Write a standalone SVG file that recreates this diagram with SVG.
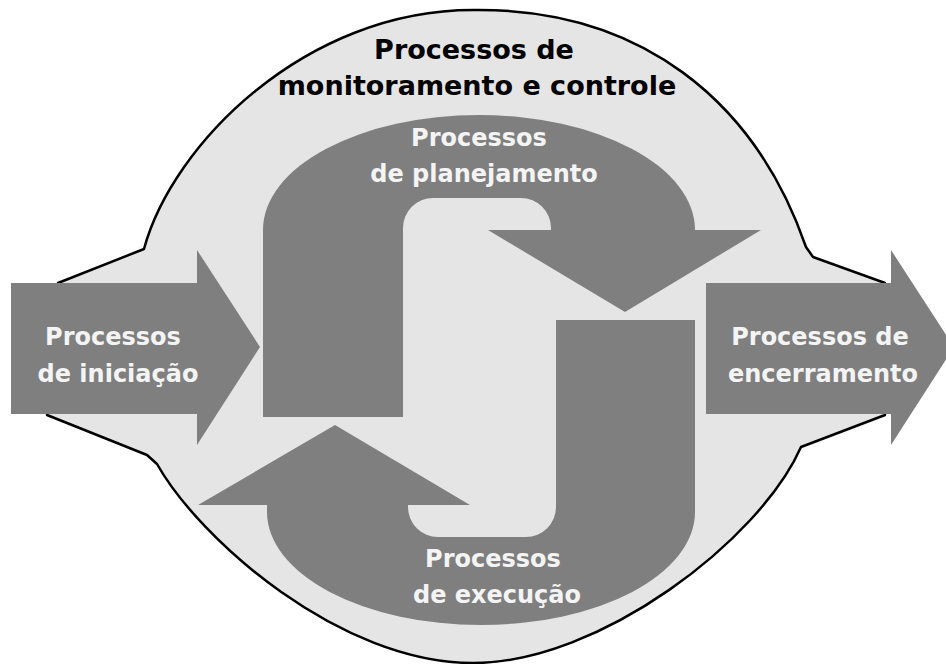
<svg xmlns="http://www.w3.org/2000/svg" width="946" height="664" viewBox="0 0 946 664">
<style>
.bg{fill:#ffffff}
.blob{fill:#e5e5e5;stroke:#000;stroke-width:2.5;stroke-linejoin:round}
.arr{fill:#7f7f7f;stroke:none}
.t{font-family:"DejaVu Sans","Liberation Sans",sans-serif;font-weight:bold;font-size:24px;fill:#f4f4f4;text-anchor:middle}
.title{font-family:"DejaVu Sans","Liberation Sans",sans-serif;font-weight:bold;font-size:27px;fill:#000;text-anchor:middle}
</style>
<rect class="bg" x="0" y="0" width="946" height="664"/>
<g id="monitoramento">
<path class="blob" d="M 58 283 L 144 249 C 172 145 305 10 473 10 C 640 8 755 100 806 247 L 813 257 L 885 283 L 885 415 L 801 447 C 760 540 600 663 473 663 C 340 663 200 540 157 464 L 147 455 L 47 415 Z"/>
<text class="title" x="474" y="59">Processos de</text>
<text class="title" x="477" y="95">monitoramento e controle</text>
</g>
<g id="planejamento">
<path class="arr" d="M 263 417 L 263 230 A 216 115 0 0 1 695 230 L 761 230 L 625 312 L 488 230 L 551 230 L 551 228 A 30 30 0 0 0 521 198 L 433 198 A 30 30 0 0 0 403 228 L 403 417 Z"/>
<text class="t" x="479" y="146">Processos</text>
<text class="t" x="484" y="182">de planejamento</text>
</g>
<g id="execucao">
<path class="arr" d="M 695 320 L 695 512 A 214 113 0 0 1 267 512 L 267 505 L 198 505 L 335 425 L 470 505 L 408 505 L 408 507 A 30 30 0 0 0 438 537 L 526 537 A 30 30 0 0 0 556 507 L 556 320 Z"/>
<text class="t" x="493" y="567">Processos</text>
<text class="t" x="497" y="603">de execução</text>
</g>
<g id="iniciacao">
<polygon class="arr" points="11,283 197,283 197,250 260,347 197,445 197,414 11,414"/>
<text class="t" x="113" y="345">Processos</text>
<text class="t" x="118" y="382">de iniciação</text>
</g>
<g id="encerramento">
<polygon class="arr" points="706,283 891,283 891,250 954,347 891,445 891,414 706,414"/>
<text class="t" x="820" y="345">Processos de</text>
<text class="t" x="823" y="382">encerramento</text>
</g>
<g id="connectors"></g>
</svg>
